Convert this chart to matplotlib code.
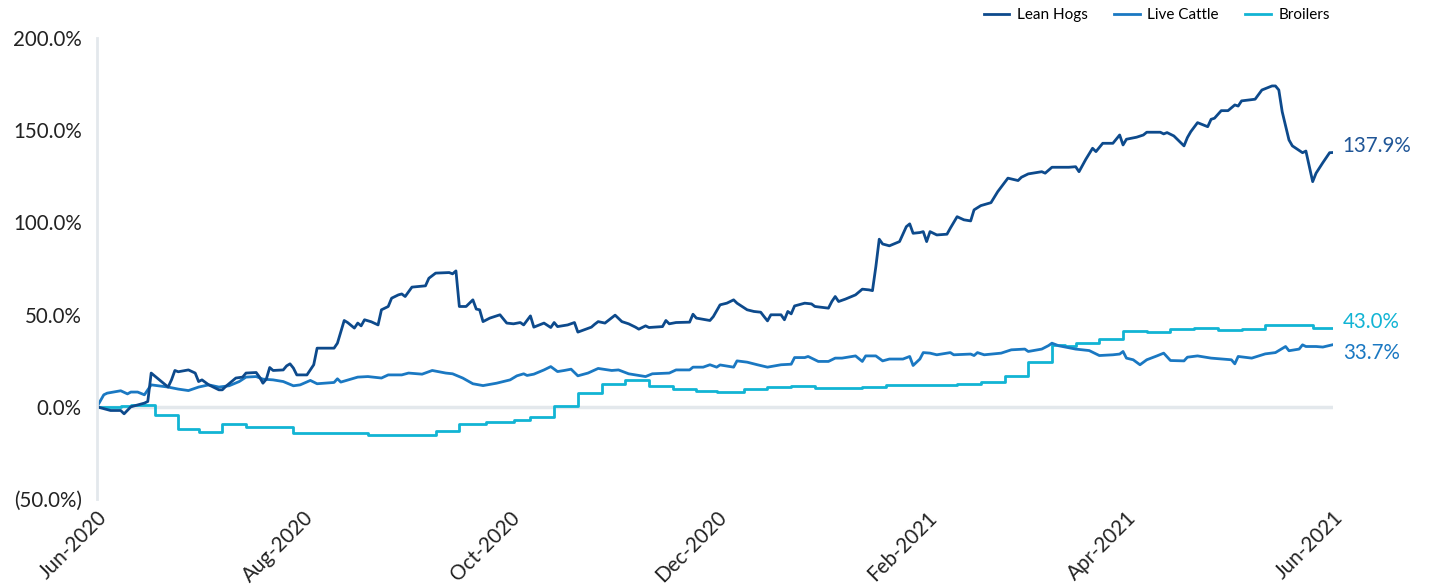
import pandas as pd
import matplotlib
matplotlib.use("Agg")
from matplotlib import pyplot as plt
from matplotlib.ticker import FuncFormatter
from matplotlib.transforms import ScaledTranslation
import matplotlib.dates as mdates

plt.rcParams['font.family'] = ['Lato', 'DejaVu Sans']

start = pd.Timestamp("2020-06-01")
end = pd.Timestamp("2021-06-01")

# days since 1 Jun 2020 and cumulative return (%)
hog_day = [0, 4, 7, 8, 10, 14, 15, 16, 19, 21, 22, 23, 24, 27, 29, 30, 31, 33, 36, 37,
           38, 41, 43, 44, 47, 48, 49, 50, 51, 52, 55, 56, 57, 58, 59, 62, 64, 65, 70, 71,
           73, 74, 76, 77, 78, 79, 81, 83, 84, 86, 87, 89, 90, 91, 93, 97, 98, 100, 104, 105,
           106, 107, 109, 111, 112, 113, 114, 116, 119, 121, 123, 125, 126, 128, 129, 132, 134, 135, 136, 139,
           141, 142, 146, 147, 148, 150, 153, 155, 157, 159, 160, 162, 163, 167, 168, 169, 171, 175, 176, 177,
           181, 182, 184, 186, 188, 189, 192, 194, 196, 197, 198, 199, 202, 203, 204, 205, 206, 209, 211, 212,
           216, 217, 218, 219, 221, 224, 226, 228, 229, 230, 231, 232, 234, 237, 239, 240, 241, 243, 244, 245,
           246, 248, 251, 252, 254, 256, 258, 259, 261, 264, 266, 269, 272, 273, 275, 279, 280, 282, 287, 289,
           290, 292, 294, 295, 297, 300, 302, 303, 304, 307, 309, 310, 314, 315, 316, 318, 321, 322, 323, 325,
           328, 329, 330, 332, 334, 336, 337, 338, 342, 344, 347, 348, 349, 350, 352, 353, 356, 357, 359, 360,
           362, 364, 365]
hog_pct = [0, -2, -2, -3.8, 0, 2, 2.9, 18.3, 13.7, 10.7, 14.6, 19.7, 19, 20, 18.3, 13.7, 14.6, 11.9, 9.2, 9.2,
           11, 15.6, 16.1, 18.3, 18.6, 16.1, 12.8, 15, 21.3, 19.7, 20, 22.2, 23.3, 21, 17.3, 17.3, 22.8, 31.8, 31.8, 34.5,
           46.8, 45.7, 42.7, 45.4, 43.9, 47.2, 46.1, 44.4, 52.6, 54.4, 58.9, 60.7, 61.2, 59.8, 64.9, 65.6, 69.7, 72.5, 72.8, 72.1,
           73.7, 54.4, 54.4, 58, 53, 52.6, 46.2, 48.1, 49.9, 45.4, 45, 45.7, 44.4, 49.3, 43.2, 45.4, 43, 45.7, 43.5, 44.4,
           45.7, 40.5, 43.2, 44.8, 46.2, 45.4, 49.7, 46.2, 45, 43.2, 42.1, 43.9, 43, 43.5, 46.8, 45, 45.7, 45.9, 50.2, 48.1,
           46.8, 48.9, 55.3, 56.2, 58, 56.2, 52.6, 51.7, 51.3, 48.9, 46.6, 49.9, 49.9, 47.2, 51.7, 50.4, 54.7, 56.2, 55.8, 54.4,
           53.5, 57.1, 59.8, 57.1, 58.4, 60.7, 63.8, 63.4, 63, 76, 90.9, 88.3, 87.3, 89.6, 97.7, 99.2, 94.1, 94.5, 95, 89.6,
           95, 93.2, 93.6, 96.9, 103.1, 101.4, 100.8, 106.8, 109.1, 110.7, 116.7, 124, 122.7, 124.5, 126.3, 127.5, 126.7, 129.9, 129.9, 130.2,
           127.5, 134.2, 140.2, 138.4, 142.9, 142.9, 147.4, 142, 145.1, 146.2, 147.4, 148.9, 148.9, 148, 148.7, 146.9, 141.5, 146, 149.2, 154.1,
           151.9, 155.9, 156.5, 160.6, 160.6, 163.7, 163.1, 165.9, 166.8, 171.8, 174, 174, 171.8, 160, 144.7, 141.5, 137.8, 138.7, 122.1, 126.7,
           132.4, 137.8, 137.9]

cattle_day = [0, 2, 3, 7, 9, 10, 12, 14, 16, 21, 24, 27, 30, 33, 36, 39, 42, 44, 47, 49,
              52, 55, 58, 60, 63, 65, 70, 71, 72, 77, 80, 84, 86, 90, 92, 96, 99, 103, 105, 108,
              111, 114, 118, 122, 124, 126, 127, 129, 132, 134, 136, 138, 140, 142, 145, 148, 152, 154, 157, 162,
              164, 169, 171, 175, 176, 179, 181, 183, 184, 188, 189, 192, 195, 198, 202, 205, 206, 209, 210, 213,
              216, 218, 220, 223, 224, 226, 227, 230, 232, 234, 238, 240, 241, 243, 244, 246, 248, 252, 253, 258,
              259, 260, 262, 267, 270, 274, 275, 279, 281, 282, 284, 289, 293, 296, 300, 302, 303, 304, 306, 308,
              310, 313, 315, 317, 321, 322, 325, 329, 335, 336, 337, 341, 345, 348, 351, 352, 355, 356, 357, 360,
              362, 365]
cattle_pct = [0, 6.5, 7.4, 8.7, 7, 8, 8, 6.5, 11.9, 10.7, 9.6, 8.8, 10.7, 11.9, 10.7, 11.4, 13.7, 16.1, 16.4, 15,
              14.6, 13.7, 11.4, 11.9, 14.3, 12.5, 13.2, 15.2, 13.4, 16.1, 16.4, 15.6, 17.3, 17.3, 18.3, 17.7, 19.7, 18.3, 17.9, 15.6,
              12.5, 11.5, 12.8, 14.6, 16.8, 17.9, 17, 17.7, 20, 21.8, 19.1, 19.7, 20.4, 16.8, 18.3, 20.8, 19.7, 20, 17.9, 16.4,
              17.9, 18.3, 20, 20, 21.5, 21.5, 22.8, 21.5, 22.7, 21.5, 24.9, 24.2, 22.8, 21.5, 22.8, 23.1, 26.7, 26.7, 27.3, 24.6,
              24.6, 26.4, 26.4, 27.3, 27.6, 24.6, 27.6, 27.6, 24.9, 25.9, 25.9, 27.3, 22.4, 25.9, 29.4, 29.1, 28.2, 29.4, 28.2, 28.6,
              27.8, 29.4, 28.2, 29.1, 30.9, 31.3, 30, 31.3, 33.2, 34.5, 33.1, 31.3, 30.5, 27.8, 28.2, 28.6, 30, 26.4, 25.5, 22.8,
              25.5, 27.6, 29.1, 25.1, 24.9, 26.9, 27.6, 26.4, 25.5, 23.3, 27.3, 26.4, 28.7, 29.4, 32.7, 30.4, 31.3, 33.6, 32.7, 32.7,
              32.4, 33.7]

broiler_day = [0, 7, 10, 17, 24, 30, 37, 44, 58, 80, 100, 107, 115, 123, 128, 135, 142, 149, 156, 163,
               170, 177, 183, 191, 198, 205, 212, 226, 233, 254, 261, 268, 275, 282, 286, 289, 296, 303, 310, 317,
               324, 331, 338, 345, 359, 365]
broiler_pct = [0, 0.5, 1.1, -4.7, -11.9, -13.4, -9.2, -10.7, -14.3, -15.3, -13.2, -9.2, -8.0, -7.3, -5.8, 0.6, 7.4, 12.4, 14.6, 11.5,
               9.7, 8.5, 8.0, 9.9, 10.7, 11.2, 10.3, 11.0, 11.7, 12.5, 13.7, 16.8, 24.1, 33.4, 32.8, 34.6, 36.9, 41.3, 40.6, 42.2,
               43.0, 41.8, 42.2, 44.2, 43.0, 43.0]

c_hogs = "#0d4a8c"
c_cattle = "#1a78c2"
c_broil = "#12b4d4"
grid_c = "#e3e8ec"
fs = 14.8


def to_dates(days):
    return start + pd.to_timedelta(days, unit="D")


def pct_fmt(v, pos):
    if v < 0:
        return "({:.1f}%)".format(-v)
    return "{:.1f}%".format(v)


fig = plt.figure(figsize=(14.33, 5.87), dpi=100)
ax = fig.add_axes([97 / 1433, 1 - 499 / 587, (1333 - 97) / 1433, (499 - 38) / 587])

ax.axhline(0, color=grid_c, lw=2.5, zorder=0)
ax.plot(to_dates(broiler_day), broiler_pct, color=c_broil, lw=2, drawstyle="steps-post", label="Broilers")
ax.plot(to_dates(cattle_day), cattle_pct, color=c_cattle, lw=2, label="Live Cattle")
ax.plot(to_dates(hog_day), hog_pct, color=c_hogs, lw=2, label="Lean Hogs")

ax.set_xlim(start, end)
ax.set_ylim(-50, 200)
ax.set_yticks([-50, 0, 50, 100, 150, 200])
ax.yaxis.set_major_formatter(FuncFormatter(pct_fmt))
ax.xaxis.set_major_locator(mdates.MonthLocator(bymonth=[2, 4, 6, 8, 10, 12]))
ax.xaxis.set_major_formatter(mdates.DateFormatter("%b-%Y"))

for s in ["top", "right", "bottom"]:
    ax.spines[s].set_visible(False)
ax.spines["left"].set_color(grid_c)
ax.spines["left"].set_linewidth(2)
ax.tick_params(length=0, labelsize=fs, colors="#222222")
ax.tick_params(axis="y", pad=11)
ax.tick_params(axis="x", pad=6)
shift = ScaledTranslation(10 / 72, 0, fig.dpi_scale_trans)
for lbl in ax.get_xticklabels():
    lbl.set_rotation(45)
    lbl.set_ha("right")
    lbl.set_transform(lbl.get_transform() + shift)

ax.annotate("137.9%", xy=(end, hog_pct[-1]), xytext=(7, 5), textcoords="offset points",
            va="center", ha="left", color="#1f5596", fontsize=fs, annotation_clip=False)
ax.annotate("43.0%", xy=(end, broiler_pct[-1]), xytext=(7, 4), textcoords="offset points",
            va="center", ha="left", color=c_broil, fontsize=fs, annotation_clip=False)
ax.annotate("33.7%", xy=(end, cattle_pct[-1]), xytext=(7, -6), textcoords="offset points",
            va="center", ha="left", color=c_cattle, fontsize=fs, annotation_clip=False)

h, l = ax.get_legend_handles_labels()
fig.legend(h[::-1], l[::-1], loc="upper right", bbox_to_anchor=(0.9376, 1.01), ncol=3, frameon=False,
           fontsize=11, handlelength=1.65, handletextpad=0.5, columnspacing=1.75)

fig.savefig("out.png", dpi=100)
